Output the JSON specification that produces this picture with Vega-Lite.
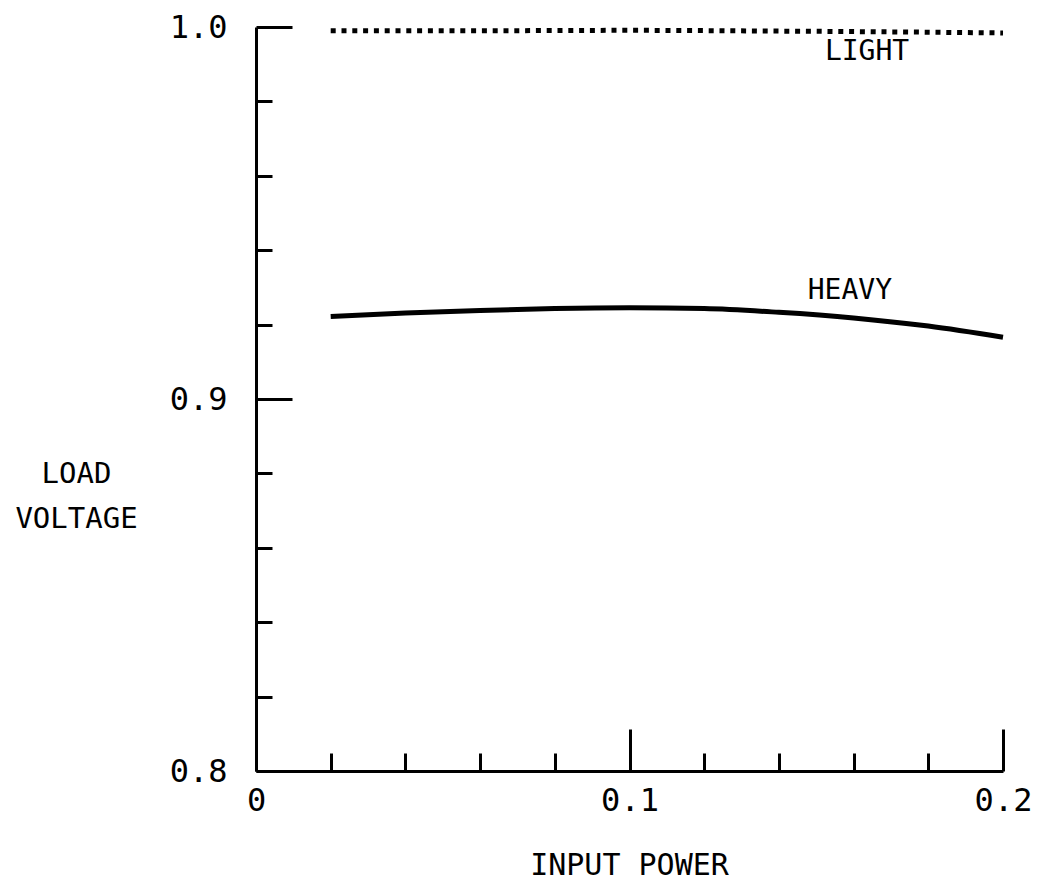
{
  "$schema": "https://vega.github.io/schema/vega-lite/v6.json",
  "width": 747,
  "height": 744,
  "autosize": {"type": "none"},
  "padding": {"left": 256, "top": 27, "right": 37, "bottom": 111},
  "background": "white",
  "config": {
    "view": {"stroke": null},
    "font": "DejaVu Sans Mono",
    "axis": {"domainColor": "black", "tickColor": "black", "labelColor": "black", "titleColor": "black", "grid": false, "domainWidth": 3, "tickWidth": 3, "labelFont": "DejaVu Sans Mono", "titleFont": "DejaVu Sans Mono", "titleFontWeight": "normal"}
  },
  "datasets": {
    "curves": [
      {"power": 0.02, "voltage": 0.9222, "load": "HEAVY"},
      {"power": 0.04, "voltage": 0.9231, "load": "HEAVY"},
      {"power": 0.06, "voltage": 0.9238, "load": "HEAVY"},
      {"power": 0.08, "voltage": 0.9243, "load": "HEAVY"},
      {"power": 0.10, "voltage": 0.9245, "load": "HEAVY"},
      {"power": 0.12, "voltage": 0.9243, "load": "HEAVY"},
      {"power": 0.14, "voltage": 0.9233, "load": "HEAVY"},
      {"power": 0.16, "voltage": 0.9218, "load": "HEAVY"},
      {"power": 0.18, "voltage": 0.9196, "load": "HEAVY"},
      {"power": 0.20, "voltage": 0.9166, "load": "HEAVY"},
      {"power": 0.02, "voltage": 0.9990, "load": "LIGHT"},
      {"power": 0.06, "voltage": 0.9990, "load": "LIGHT"},
      {"power": 0.10, "voltage": 0.9991, "load": "LIGHT"},
      {"power": 0.14, "voltage": 0.9989, "load": "LIGHT"},
      {"power": 0.18, "voltage": 0.9986, "load": "LIGHT"},
      {"power": 0.20, "voltage": 0.9984, "load": "LIGHT"}
    ],
    "labels": [
      {"power": 0.1636, "voltage": 0.9933, "text": "LIGHT"},
      {"power": 0.159, "voltage": 0.9289, "text": "HEAVY"}
    ]
  },
  "encoding": {
    "x": {
      "field": "power", "type": "quantitative",
      "scale": {"domain": [0, 0.2], "nice": false, "zero": false},
      "axis": {
        "values": [0, 0.02, 0.04, 0.06, 0.08, 0.1, 0.12, 0.14, 0.16, 0.18, 0.2],
        "tickSize": {"condition": {"test": "abs(datum.value*10 - round(datum.value*10)) < 0.0001", "value": -42}, "value": -18},
        "labelExpr": "abs(datum.value*10 - round(datum.value*10)) < 0.0001 ? (datum.value == 0 ? '0' : format(datum.value, '.1f')) : ''",
        "labelPadding": 81,
        "labelBaseline": "alphabetic",
        "labelFontSize": 32,
        "labelFlush": false,
        "labelOverlap": false,
        "title": "INPUT POWER",
        "titleFontSize": 30,
        "titleBaseline": "alphabetic",
        "titleY": 103,
        "titleX": 373
      }
    },
    "y": {
      "field": "voltage", "type": "quantitative",
      "scale": {"domain": [0.8, 1.0], "nice": false, "zero": false},
      "axis": {
        "values": [0.8, 0.82, 0.84, 0.86, 0.88, 0.9, 0.92, 0.94, 0.96, 0.98, 1.0],
        "tickSize": {"condition": {"test": "abs(datum.value*10 - round(datum.value*10)) < 0.0001", "value": -36}, "value": -16},
        "labelExpr": "abs(datum.value*10 - round(datum.value*10)) < 0.0001 ? format(datum.value, '.1f') : ''",
        "labelPadding": 65,
        "labelAlign": "right",
        "labelBaseline": "middle",
        "labelFontSize": 32,
        "labelFlush": false,
        "labelOverlap": false,
        "title": ["LOAD", "VOLTAGE"],
        "titleAngle": 0,
        "titleAlign": "center",
        "titleBaseline": "alphabetic",
        "titleFontSize": 29,
        "titleLineHeight": 45,
        "titleX": -180,
        "titleY": 455
      }
    }
  },
  "layer": [
    {
      "data": {"name": "curves"},
      "transform": [{"filter": "datum.load == 'HEAVY'"}],
      "mark": {"type": "line", "color": "black", "strokeWidth": 5, "interpolate": "monotone"}
    },
    {
      "data": {"name": "curves"},
      "transform": [{"filter": "datum.load == 'LIGHT'"}],
      "mark": {"type": "line", "color": "black", "strokeWidth": 5, "strokeDash": [5, 5.8], "strokeCap": "butt", "interpolate": "monotone"}
    },
    {
      "data": {"name": "labels"},
      "mark": {"type": "text", "color": "black", "fontSize": 28, "font": "DejaVu Sans Mono", "align": "center", "baseline": "middle"},
      "encoding": {"text": {"field": "text"}}
    }
  ]
}
